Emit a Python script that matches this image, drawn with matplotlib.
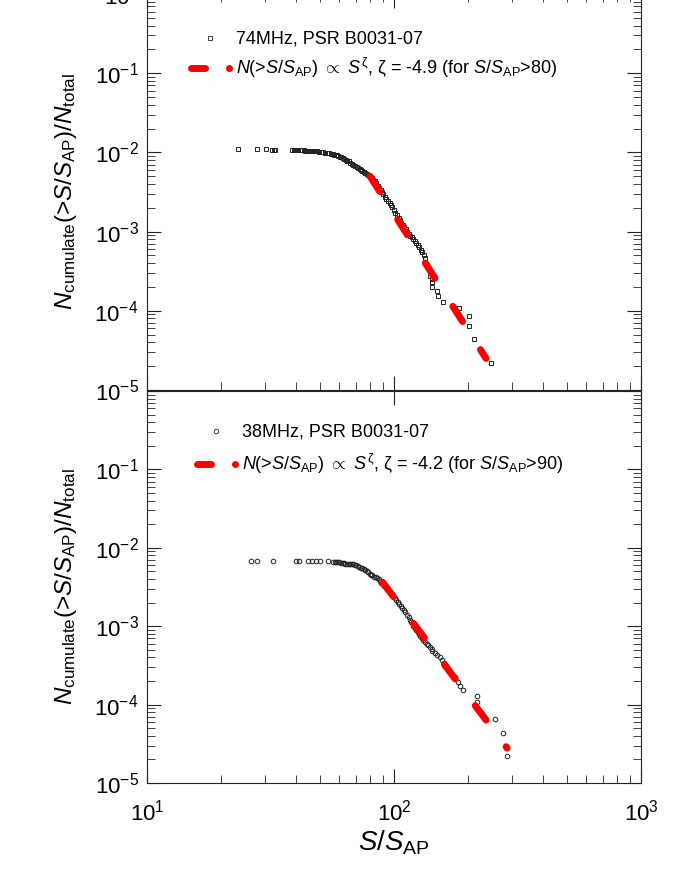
import numpy as np
import matplotlib
matplotlib.use("Agg")
import matplotlib.pyplot as plt
from matplotlib.lines import Line2D
from matplotlib.legend_handler import HandlerBase
from matplotlib.ticker import LogLocator

plt.rcParams['font.family'] = ['Liberation Sans', 'DejaVu Sans']
plt.rcParams['mathtext.fontset'] = 'custom'
plt.rcParams['mathtext.rm'] = 'Liberation Sans'
plt.rcParams['mathtext.it'] = 'Liberation Sans:italic'
plt.rcParams['mathtext.bf'] = 'Liberation Sans:bold'
plt.rcParams['mathtext.sf'] = 'Liberation Sans'

# ---------------- data ----------------
x74 = [23.4, 27.9, 30.3, 32.1, 32.7, 33.0, 38.6, 39.2, 39.7, 40.3, 40.9, 41.5, 42.0, 42.6,
       43.2, 43.8, 44.4, 45.0, 45.7, 46.3, 47.0, 47.6, 48.3, 49.0, 49.7, 50.4, 51.1, 51.8,
       52.6, 53.3, 54.1, 54.8, 55.6, 56.4, 57.2, 58.0, 58.8, 59.6, 60.4, 61.2, 62.1, 63.0,
       63.9, 64.8, 65.7, 66.6, 67.6, 68.5, 69.5, 70.5, 71.5, 72.5, 73.5, 74.5, 75.6, 76.6,
       77.7, 78.8, 80.0, 81.1, 82.2, 83.4, 84.6, 85.8, 87.0, 88.2, 89.4, 90.6, 91.9, 93.2,
       94.6, 95.9, 97.2, 98.6, 100.0, 101.4, 102.8, 104.3, 105.8, 107.2, 108.7, 110.2, 111.8,
       113.4, 115.0, 116.6, 118.3, 119.9, 121.6, 123.3, 125.1, 126.8, 128.6, 130.4, 132.3,
       134.1, 136.0, 138.0, 139.9, 142.5, 142.5, 142.5, 149.3, 150.7, 157.9, 183.3, 201.2,
       201.2, 210.8, 247.0]
y74 = [1.09e-2, 1.09e-2, 1.09e-2, 1.08e-2, 1.08e-2, 1.08e-2, 1.075e-2, 1.075e-2, 1.07e-2,
       1.07e-2, 1.07e-2, 1.065e-2, 1.06e-2, 1.06e-2, 1.06e-2, 1.055e-2, 1.05e-2, 1.05e-2,
       1.045e-2, 1.04e-2, 1.04e-2, 1.035e-2, 1.03e-2, 1.03e-2, 1.025e-2, 1.02e-2, 1.01e-2,
       1.005e-2, 9.97e-3, 9.9e-3, 9.8e-3, 9.72e-3, 9.65e-3, 9.5e-3, 9.4e-3, 9.25e-3, 9.14e-3,
       9.0e-3, 8.87e-3, 8.7e-3, 8.5e-3, 8.3e-3, 8.1e-3, 7.9e-3, 7.7e-3, 7.45e-3, 7.2e-3,
       7.0e-3, 6.8e-3, 6.55e-3, 6.3e-3, 6.1e-3, 5.95e-3, 5.8e-3, 5.7e-3, 5.55e-3, 5.39e-3,
       5.25e-3, 5.1e-3, 4.8e-3, 4.53e-3, 4.3e-3, 4.05e-3, 3.8e-3, 3.6e-3, 3.4e-3, 3.2e-3,
       3.0e-3, 2.75e-3, 2.6e-3, 2.45e-3, 2.3e-3, 2.18e-3, 2.02e-3, 1.88e-3, 1.74e-3, 1.6e-3,
       1.5e-3, 1.40e-3, 1.3e-3, 1.21e-3, 1.14e-3, 1.08e-3, 1.0e-3, 9.3e-4, 8.9e-4, 8.5e-4,
       8.0e-4, 7.6e-4, 7.2e-4, 6.76e-4, 6.3e-4, 5.9e-4, 5.5e-4, 5.1e-4, 4.6e-4, 3.8e-4,
       3.4e-4, 2.73e-4, 2.5e-4, 2.29e-4, 1.98e-4, 1.76e-4, 1.56e-4, 1.31e-4, 1.10e-4,
       8.71e-5, 6.5e-5, 4.44e-5, 2.2e-5]

x38 = [26.4, 27.9, 32.4, 40.1, 41.2, 44.9, 46.6, 48.3, 50.2, 54.1, 56.6, 57.7, 58.5, 59.3,
       60.1, 61.0, 61.9, 62.8, 63.6, 64.5, 65.5, 66.4, 67.3, 68.2, 69.2, 70.2, 71.2, 72.2,
       73.2, 74.2, 75.3, 76.3, 77.4, 78.5, 79.6, 80.7, 81.8, 83.0, 84.2, 85.4, 86.6, 87.8,
       89.0, 90.3, 91.5, 92.8, 94.1, 95.4, 96.7, 98.1, 99.5, 100.9, 102.3, 103.8, 105.2,
       106.7, 108.2, 109.8, 111.3, 112.9, 114.5, 116.1, 117.7, 119.4, 121.1, 122.7, 124.5,
       126.2, 128.0, 129.8, 131.6, 133.5, 135.4, 137.3, 140.0, 142.5, 142.5, 146.0, 149.3,
       153.0, 156.4, 159.5, 162.4, 165.5, 168.6, 176.6, 182.0, 185.0, 190.2, 216.8, 216.8,
       256.4, 276.3, 286.8]
y38 = [6.82e-3, 6.82e-3, 6.82e-3, 6.82e-3, 6.82e-3, 6.8e-3, 6.8e-3, 6.78e-3, 6.78e-3,
       6.72e-3, 6.65e-3, 6.62e-3, 6.6e-3, 6.55e-3, 6.5e-3, 6.45e-3, 6.4e-3, 6.35e-3, 6.3e-3,
       6.28e-3, 6.25e-3, 6.22e-3, 6.2e-3, 6.15e-3, 6.05e-3, 5.95e-3, 5.85e-3, 5.73e-3,
       5.6e-3, 5.45e-3, 5.3e-3, 5.15e-3, 5.0e-3, 4.85e-3, 4.7e-3, 4.55e-3, 4.45e-3, 4.3e-3,
       4.2e-3, 4.1e-3, 3.95e-3, 3.8e-3, 3.6e-3, 3.45e-3, 3.3e-3, 3.15e-3, 3.0e-3, 2.85e-3,
       2.7e-3, 2.55e-3, 2.4e-3, 2.27e-3, 2.15e-3, 2.05e-3, 1.93e-3, 1.8e-3, 1.7e-3, 1.6e-3,
       1.5e-3, 1.4e-3, 1.3e-3, 1.2e-3, 1.13e-3, 1.0e-3, 9.5e-4, 9.0e-4, 8.5e-4, 8.0e-4,
       7.5e-4, 7.1e-4, 6.7e-4, 6.3e-4, 6.0e-4, 5.8e-4, 5.4e-4, 5.14e-4, 4.8e-4, 4.5e-4,
       4.31e-4, 4.0e-4, 3.72e-4, 3.4e-4, 3.1e-4, 2.85e-4, 2.6e-4, 2.25e-4, 1.95e-4, 1.73e-4,
       1.54e-4, 1.29e-4, 1.08e-4, 6.56e-5, 4.35e-5, 2.21e-5]

# power-law fits: end points of the red line
fit74_x = [80.0, 236.0]
fit74_y = [5.0e-3, 2.5e-5]
fit38_x = [90.0, 287.0]
fit38_y = [3.63e-3, 2.79e-5]

label74 = "74MHz, PSR B0031-07"
label38 = "38MHz, PSR B0031-07"
fitlabel74 = r"$N$(>$S/S_{\mathrm{AP}}$) $\propto$ $S^{\mathrm{\zeta}}$, ζ = -4.9 (for $S/S_{\mathrm{AP}}$>80)"
fitlabel38 = r"$N$(>$S/S_{\mathrm{AP}}$) $\propto$ $S^{\mathrm{\zeta}}$, ζ = -4.2 (for $S/S_{\mathrm{AP}}$>90)"
ylabel = r"$N_{\mathrm{cumulate}}$(>$S/S_{\mathrm{AP}}$)/$N_{\mathrm{total}}$"
xlabel = r"$S/S_{\mathrm{AP}}$"
yticks = [1e-5, 1e-4, 1e-3, 1e-2, 1e-1, 1e0]
xticks = [1e1, 1e2, 1e3]

# ---------------- figure ----------------
W, H = 675, 873
fig = plt.figure(figsize=(W / 100, H / 100), dpi=100)


def rect(l, t, r, b):
    return [l / W, 1 - b / H, (r - l) / W, (b - t) / H]


ax1 = fig.add_axes(rect(147, -6, 641, 390))
ax2 = fig.add_axes(rect(147, 391, 641, 783))

RED = '#ff0000'
EDGE = '#222222'


class FitHandler(HandlerBase):
    def create_artists(self, legend, orig_handle, xdescent, ydescent,
                       width, height, fontsize, trans):
        y = (height - ydescent) / 2
        x0 = -xdescent
        ln = Line2D([x0 + 0.08 * width, x0 + 0.39 * width], [y, y], color=RED,
                    lw=5, solid_capstyle='round')
        dot = Line2D([x0 + 0.93 * width], [y], marker='o', ms=4, color=RED,
                     ls='none')
        ln.set_transform(trans)
        dot.set_transform(trans)
        return [ln, dot]


def style(ax, xs, ys, marker, ms, fx, fy, lab, flab, anchor, lsp):
    ax.plot(xs, ys, ls='none', marker=marker, ms=ms, mfc='none', mec=EDGE,
            mew=0.7, zorder=2)
    ax.plot(fx, fy, color=RED, lw=5, dashes=(2.6, 4.8),
            dash_capstyle='round', solid_capstyle='round', zorder=3)
    ax.set_xscale('log')
    ax.set_yscale('log')
    ax.set_xlim(10, 1000)
    ax.set_ylim(1e-5, 1)
    ax.set_xticks(xticks)
    ax.set_yticks(yticks)
    ax.xaxis.set_minor_locator(LogLocator(base=10, subs=np.arange(2, 10), numticks=20))
    ax.yaxis.set_minor_locator(LogLocator(base=10, subs=np.arange(2, 10), numticks=20))
    ax.tick_params(which='both', direction='in', top=True, right=True,
                   color=EDGE)
    ax.tick_params(which='major', length=10, width=0.8, labelsize=16)
    ax.tick_params(axis='y', which='major', pad=6)
    ax.tick_params(axis='x', which='major', pad=12)
    ax.tick_params(which='minor', length=5.5, width=0.6)
    for s in ax.spines.values():
        s.set_linewidth(0.8)
        s.set_color(EDGE)
    ax.set_ylabel(ylabel, fontsize=17.5)
    ax.yaxis.set_label_coords(-0.138, 0.5)

    h1 = Line2D([], [], ls='none', marker=marker, ms=ms, mfc='none', mec=EDGE, mew=0.6)
    h2 = Line2D([], [], color=RED)
    ax.legend([h1, h2], [lab, flab], handler_map={h2: FitHandler()},
              loc='upper left', bbox_to_anchor=anchor, frameon=False,
              borderpad=0, borderaxespad=0, fontsize=13, handlelength=2.5,
              handletextpad=0.22, labelspacing=lsp)


style(ax1, x74, y74, 's', 3.0, fit74_x, fit74_y, label74, fitlabel74, (0.081, 0.907), 0.45)
style(ax2, x38, y38, 'o', 3.3, fit38_x, fit38_y, label38, fitlabel38, (0.093, 0.916), 0.6)

ax1.tick_params(labelbottom=False)
ax2.tick_params(which='minor', top=False)
ax2.yaxis.get_major_ticks()[-1].label1.set_visible(False)
ax2.set_xlabel(xlabel, fontsize=20)
ax2.xaxis.set_label_coords(0.5, -0.115)
ax2.xaxis.label.set_va('top')

fig.savefig('out.png', dpi=100)
